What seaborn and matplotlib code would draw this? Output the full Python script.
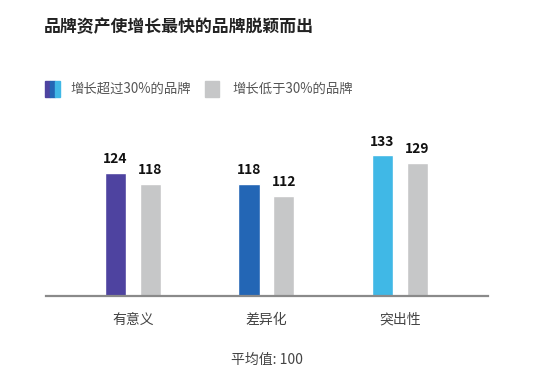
import matplotlib
matplotlib.use("Agg")
import matplotlib.pyplot as plt
import matplotlib.patches as mpatches
import seaborn as sns
import pandas as pd

# data
categories = ["有意义", "差异化", "突出性"]
groups = ["增长超过30%的品牌", "增长低于30%的品牌"]
fast_values = [124, 118, 133]
slow_values = [118, 112, 129]
fast_colors = ["#4E43A0", "#2366B5", "#40B8E6"]
slow_color = "#C6C7C8"

df = pd.DataFrame({
    "category": categories * 2,
    "group": [groups[0]] * 3 + [groups[1]] * 3,
    "value": fast_values + slow_values,
})

sns.set_theme(style="white")
plt.rcParams["font.family"] = ["Noto Sans CJK SC", "DejaVu Sans"]

fig = plt.figure(figsize=(5.5, 3.79), dpi=100)
ax = fig.add_axes([46 / 550, 1 - 296 / 379, (488 - 46) / 550, 154 / 379])

sns.barplot(data=df, x="category", y="value", hue="group",
            palette=[fast_colors[1], slow_color], width=0.52, gap=0.39,
            legend=False, ax=ax)

# each fast-growing bar has its own colour
for patch, c in zip(ax.containers[0], fast_colors):
    patch.set_facecolor(c)

for cont in ax.containers:
    ax.bar_label(cont, fmt="%d", padding=5, fontsize=10, fontweight="bold",
                 color="#111111")

ax.set_ylim(60, 140)
ax.set_xlim(-0.65, 2.66)
ax.set_xlabel("")
ax.set_ylabel("")
ax.set_yticks([])
ax.tick_params(axis="x", length=0, pad=12, labelsize=10, labelcolor="#444444")
for side in ["top", "left", "right"]:
    ax.spines[side].set_visible(False)
ax.spines["bottom"].set_color("#8A8A8A")
ax.spines["bottom"].set_linewidth(1.6)

# title
fig.text(44 / 550, 1 - 27 / 379, "品牌资产使增长最快的品牌脱颖而出",
         fontsize=12.2, fontweight="semibold", color="#222222", va="center")

# legend drawn by hand: tri-colour swatch and grey swatch
sw_y = 1 - 97 / 379
sw_h = 16 / 379
for i, c in enumerate(fast_colors):
    fig.patches.append(mpatches.Rectangle(((45 + i * 5) / 550, sw_y), 5 / 550, sw_h,
                                          transform=fig.transFigure, color=c))
fig.text(70 / 550, 1 - 89 / 379, groups[0], fontsize=9.6, color="#555555", va="center")
fig.patches.append(mpatches.Rectangle((205 / 550, sw_y), 14 / 550, sw_h,
                                      transform=fig.transFigure, color=slow_color))
fig.text(232 / 550, 1 - 89 / 379, groups[1], fontsize=9.6, color="#555555", va="center")

fig.text(267 / 550, 1 - 360 / 379, "平均值: 100", fontsize=10, color="#444444",
         ha="center", va="center")

fig.savefig("out.png", dpi=100)
